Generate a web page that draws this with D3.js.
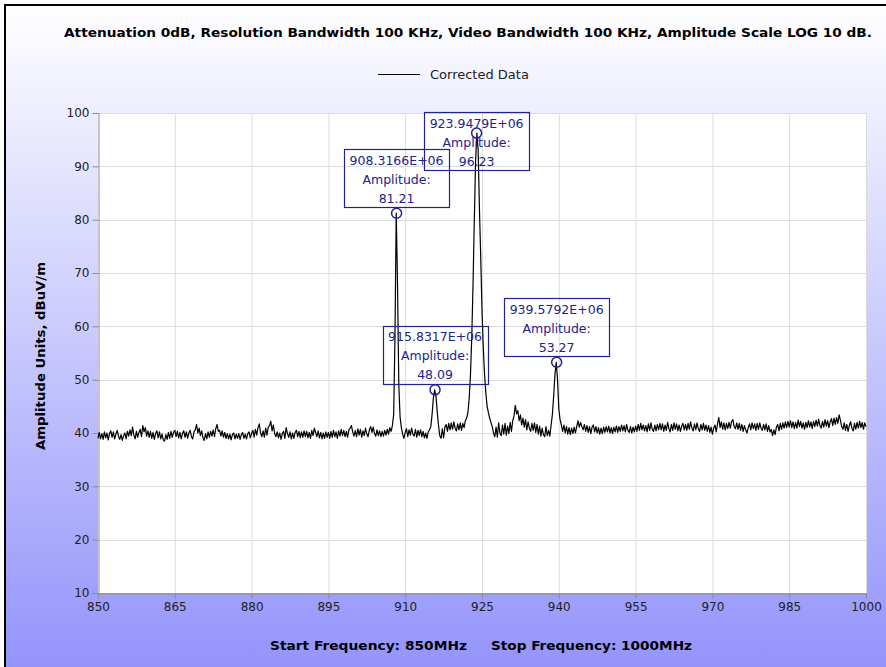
<!DOCTYPE html>
<html>
<head>
<meta charset="utf-8">
<script src="https://cdn.jsdelivr.net/npm/d3@7"></script>
<style>
  body { margin: 0; background: #fff; }
  svg { display: block; font-family: "DejaVu Sans", Verdana, sans-serif; }
  .bold { font-family: "DejaVu Sans Condensed", "DejaVu Sans", sans-serif; font-weight: bold; font-size: 13px; }
</style>
</head>
<body>
<svg id="chart" width="886" height="667"></svg>
<script>
// spectrum trace, one reading every 0.25 MHz from 850 MHz
const freqStart = 850
const freqStep = 0.25
const amplitude = [
  39.0, 40.1, 38.9, 39.9, 38.8, 40.2, 39.1, 40.0, 38.7, 39.9, 40.4, 39.2, 40.2, 38.9, 39.8, 40.5, 39.4, 38.8, 39.7, 38.6,
  39.5, 40.0, 38.9, 40.3, 39.4, 40.6, 39.5, 41.1, 39.6, 38.9, 40.3, 39.2, 40.1, 40.7, 39.3, 41.4, 40.2, 41.0, 39.4, 40.4,
  39.2, 40.3, 39.0, 40.1, 38.8, 39.9, 40.4, 39.1, 40.2, 38.9, 39.8, 38.7, 38.5, 39.7, 38.8, 40.1, 39.0, 40.3, 39.2, 40.1,
  40.5, 39.3, 40.3, 39.1, 40.1, 38.9, 39.9, 40.4, 39.2, 40.2, 39.0, 40.0, 40.5, 39.3, 38.9, 40.2, 40.6, 41.6, 40.0, 40.9,
  39.5, 40.4, 39.1, 38.6, 39.9, 38.9, 40.2, 39.2, 40.3, 39.4, 40.6, 39.3, 40.8, 41.6, 40.3, 40.5, 39.4, 40.4, 39.2, 40.1,
  39.0, 39.9, 38.9, 39.8, 38.7, 39.7, 40.0, 38.9, 39.8, 39.0, 39.9, 38.8, 39.7, 40.1, 39.0, 39.8, 38.9, 39.9, 40.2, 39.1,
  39.9, 40.5, 39.2, 40.7, 39.6, 41.0, 41.7, 40.0, 39.3, 40.4, 39.2, 40.9, 39.6, 41.1, 41.4, 42.2, 40.4, 41.5, 39.9, 39.3,
  40.2, 39.1, 40.0, 38.8, 39.9, 40.3, 39.0, 41.0, 39.9, 39.2, 40.2, 38.9, 40.0, 39.0, 40.1, 40.5, 39.3, 40.3, 39.1, 40.2,
  39.2, 40.4, 39.3, 40.3, 39.1, 40.1, 39.0, 40.5, 39.5, 40.9, 40.1, 39.3, 40.4, 39.1, 40.1, 38.9, 40.0, 39.0, 40.2, 39.2,
  40.1, 39.0, 40.3, 39.2, 40.5, 39.3, 40.2, 39.0, 40.4, 39.4, 40.7, 39.5, 40.5, 39.3, 40.3, 39.2, 40.6, 40.9, 41.4, 40.2,
  39.4, 40.5, 39.3, 40.8, 39.6, 40.7, 39.2, 40.4, 39.5, 40.9, 39.8, 39.3, 40.6, 41.2, 40.1, 41.1, 39.9, 39.4, 40.6, 39.5,
  40.4, 39.3, 40.3, 39.4, 40.5, 39.6, 40.7, 39.8, 41.0, 40.3, 41.4, 43.5, 58.0, 81.21, 68.0, 49.0, 43.0, 41.0, 39.8, 39.0,
  40.1, 40.8, 39.3, 40.6, 39.6, 40.9, 39.8, 39.4, 40.7, 39.2, 40.5, 39.5, 40.6, 39.3, 40.3, 39.1, 40.0, 39.0, 40.2, 40.6,
  41.2, 43.5, 46.5, 48.09, 47.0, 44.0, 41.5, 39.5, 39.0, 40.8, 39.1, 41.1, 41.6, 40.3, 41.8, 40.6, 41.9, 40.7, 42.1, 40.9,
  40.4, 41.7, 40.6, 41.9, 40.5, 41.8, 41.0, 42.3, 42.8, 43.8, 46.5, 51.0, 58.0, 68.0, 80.0, 91.0, 96.23, 93.0, 82.0, 73.0,
  63.0, 56.0, 51.0, 47.5, 45.0, 43.8, 42.8, 42.0, 41.2, 40.0, 39.3, 41.1, 39.2, 41.9, 40.0, 39.5, 41.5, 39.8, 41.8, 39.6,
  41.3, 39.9, 42.0, 40.3, 42.3, 43.2, 45.2, 43.6, 44.2, 42.3, 43.4, 41.5, 42.8, 41.1, 42.5, 40.6, 42.1, 40.9, 40.3, 41.8,
  40.5, 41.9, 40.1, 41.6, 39.8, 41.3, 39.4, 40.9, 39.7, 39.3, 41.2, 39.5, 40.5, 39.4, 41.5, 43.5, 47.0, 51.0, 53.27, 50.0,
  44.5, 42.5, 41.5, 40.3, 41.5, 40.0, 41.2, 39.8, 41.0, 39.7, 40.9, 39.9, 41.1, 40.0, 41.2, 42.3, 41.1, 42.0, 41.2, 40.6,
  41.6, 40.3, 41.4, 40.1, 41.2, 39.9, 41.1, 41.5, 40.2, 41.2, 40.0, 41.0, 39.8, 40.9, 39.9, 41.1, 40.1, 41.2, 40.2, 41.3,
  40.0, 41.0, 39.9, 41.1, 40.2, 41.3, 40.1, 41.2, 40.3, 41.5, 40.4, 41.4, 40.2, 41.6, 40.5, 40.1, 41.2, 40.0, 41.1, 40.2,
  41.3, 40.3, 41.6, 40.5, 41.8, 40.6, 41.5, 40.4, 41.4, 40.2, 41.7, 40.5, 41.9, 40.7, 40.3, 41.5, 40.4, 41.6, 40.6, 41.8,
  40.6, 41.7, 40.3, 41.5, 40.5, 42.0, 40.8, 40.2, 41.6, 40.5, 41.9, 40.7, 41.7, 40.4, 41.5, 40.3, 41.3, 41.8, 40.6, 41.6,
  40.5, 41.8, 40.7, 42.1, 40.9, 40.4, 41.7, 40.6, 41.9, 40.8, 40.3, 41.6, 40.6, 41.8, 40.5, 41.5, 40.3, 41.4, 40.1, 41.1,
  39.8, 40.9, 41.5, 40.2, 41.7, 42.9, 41.0, 42.1, 40.7, 41.9, 40.6, 41.8, 40.8, 42.0, 40.9, 42.2, 42.5, 41.2, 40.8, 41.9,
  40.7, 41.8, 40.5, 41.6, 40.3, 41.4, 40.6, 40.0, 41.0, 41.7, 40.6, 41.9, 40.8, 41.7, 40.5, 41.8, 40.7, 41.9, 40.9, 40.5,
  41.6, 40.6, 41.7, 40.3, 41.4, 40.2, 40.7, 39.5, 40.6, 39.7, 41.1, 41.6, 40.4, 41.8, 40.7, 41.9, 40.9, 42.1, 41.0, 42.2,
  41.1, 42.3, 41.0, 42.1, 40.8, 42.0, 40.9, 42.4, 41.2, 42.2, 40.9, 41.9, 40.7, 42.0, 41.0, 42.3, 41.1, 42.1, 40.8, 42.2,
  41.2, 42.4, 41.3, 42.6, 41.4, 40.9, 42.2, 41.1, 42.5, 41.3, 42.3, 41.0, 42.1, 42.7, 41.4, 42.8, 41.6, 42.9, 41.8, 43.4,
  42.4, 41.2, 40.7, 41.9, 40.5, 41.6, 40.3, 41.4, 42.1, 40.9, 40.4, 41.8, 40.7, 42.0, 40.9, 42.2, 41.0, 42.0, 40.7, 41.9,
  41.2
]

// peak markers
const markerFreq = [908.3166, 923.9479, 915.8317, 939.5792]
const markerAmp = [81.21, 96.23, 48.09, 53.27]
const markerLabel = ["908.3166E+06", "923.9479E+06", "915.8317E+06", "939.5792E+06"]

const xTicks = [850, 865, 880, 895, 910, 925, 940, 955, 970, 985, 1000]
const yTicks = [10, 20, 30, 40, 50, 60, 70, 80, 90, 100]

const titleText = "Attenuation 0dB, Resolution Bandwidth 100 KHz, Video Bandwidth 100 KHz, Amplitude Scale LOG 10 dB."
const legendText = "Corrected Data"
const yTitle = "Amplitude Units, dBuV/m"
const startText = "Start Frequency: 850MHz"
const stopText = "Stop Frequency: 1000MHz"

const W = 886, H = 667
const plot = { left: 98, right: 866, top: 113, bottom: 593 }
const navy = "#23238e"

const svg = d3.select("#chart")

// background gradient
const grad = svg.append("defs").append("linearGradient")
    .attr("id", "bg").attr("x1", 0).attr("y1", 0).attr("x2", 0).attr("y2", 1)
grad.append("stop").attr("offset", "0%").attr("stop-color", "#ffffff")
grad.append("stop").attr("offset", "100%").attr("stop-color", "#9494fb")

svg.append("rect").attr("x", 5).attr("y", 5).attr("width", W - 5).attr("height", H - 5)
    .attr("fill", "url(#bg)")
svg.append("path")
    .attr("d", `M5,${H} V5 H${W}`)
    .attr("fill", "none").attr("stroke", "#000").attr("stroke-width", 2)

const x = d3.scaleLinear().domain([850, 1000]).range([plot.left, plot.right])
const y = d3.scaleLinear().domain([10, 100]).range([plot.bottom, plot.top])

svg.append("rect")
    .attr("x", plot.left).attr("y", plot.top)
    .attr("width", plot.right - plot.left).attr("height", plot.bottom - plot.top)
    .attr("fill", "#ffffff")

// grid
svg.append("g").selectAll("line").data(xTicks.slice(1)).join("line")
    .attr("x1", d => x(d) + 0.5).attr("x2", d => x(d) + 0.5)
    .attr("y1", plot.top).attr("y2", plot.bottom)
    .attr("stroke", "#dcdcdc")
svg.append("g").selectAll("line").data(yTicks.slice(1)).join("line")
    .attr("y1", d => Math.round(y(d)) + 0.5).attr("y2", d => Math.round(y(d)) + 0.5)
    .attr("x1", plot.left).attr("x2", plot.right)
    .attr("stroke", "#dcdcdc")

// axes
const xAxis = svg.append("g")
    .attr("transform", `translate(0,${plot.bottom + 0.5})`)
    .call(d3.axisBottom(x).tickValues(xTicks).tickSize(5).tickPadding(4).tickFormat(d3.format("d")))
const yAxis = svg.append("g")
    .attr("transform", `translate(${plot.left + 0.5},0)`)
    .call(d3.axisLeft(y).tickValues(yTicks).tickSize(6).tickPadding(3).tickFormat(d3.format("d")))

for (const g of [xAxis, yAxis]) {
    g.select(".domain").attr("stroke", "#8c8c8c")
    g.selectAll(".tick line").attr("stroke", "#8c8c8c")
    g.selectAll(".tick text")
        .attr("fill", "#222")
        .style("font-family", "'DejaVu Sans', sans-serif")
        .style("font-size", "12px")
}

// trace
const line = d3.line()
    .x((d, i) => x(freqStart + i * freqStep))
    .y(d => y(d))

svg.append("path")
    .datum(amplitude)
    .attr("d", line)
    .attr("fill", "none")
    .attr("stroke", "#000")
    .attr("stroke-width", 1.2)
    .attr("stroke-linejoin", "round")

// peak markers with label boxes
const boxW = 105, boxH = 58
const marks = markerFreq.map((f, i) => ({ f, a: markerAmp[i], label: markerLabel[i] }))

const mg = svg.append("g").selectAll("g").data(marks).join("g")

mg.append("circle")
    .attr("cx", d => x(d.f)).attr("cy", d => y(d.a)).attr("r", 5)
    .attr("fill", "none").attr("stroke", navy).attr("stroke-width", 1.5)

mg.each(function (d) {
    const g = d3.select(this)
    const cx = x(d.f)
    const top = Math.max(plot.top - 1, y(d.a) - 6 - boxH)
    g.append("rect")
        .attr("x", Math.round(cx - boxW / 2) + 0.5).attr("y", Math.round(top) + 0.5)
        .attr("width", boxW).attr("height", boxH)
        .attr("fill", "none").attr("stroke", navy).attr("stroke-width", 1.2)
    const lines = [d.label, "Amplitude:", d.a.toFixed(2)]
    g.selectAll("text").data(lines).join("text")
        .attr("x", cx)
        .attr("y", (t, k) => top + 15.5 + k * 19)
        .attr("text-anchor", "middle")
        .attr("fill", navy)
        .style("font-size", "12.5px")
        .text(t => t)
})

// titles
svg.append("text")
    .attr("class", "bold")
    .attr("x", 468).attr("y", 37)
    .attr("text-anchor", "middle")
    .attr("textLength", 808).attr("lengthAdjust", "spacingAndGlyphs")
    .text(titleText)

svg.append("line")
    .attr("x1", 378).attr("x2", 420).attr("y1", 74.5).attr("y2", 74.5)
    .attr("stroke", "#000")
svg.append("text")
    .attr("x", 430).attr("y", 79)
    .style("font-size", "13px").attr("fill", "#222")
    .text(legendText)

svg.append("text")
    .attr("class", "bold")
    .attr("transform", "translate(45,356) rotate(-90)")
    .attr("text-anchor", "middle")
    .attr("textLength", 188).attr("lengthAdjust", "spacingAndGlyphs")
    .text(yTitle)

svg.append("text")
    .attr("class", "bold")
    .attr("x", 270).attr("y", 650)
    .attr("textLength", 197).attr("lengthAdjust", "spacingAndGlyphs")
    .text(startText)
svg.append("text")
    .attr("class", "bold")
    .attr("x", 491).attr("y", 650)
    .attr("textLength", 201).attr("lengthAdjust", "spacingAndGlyphs")
    .text(stopText)
</script>
</body>
</html>
